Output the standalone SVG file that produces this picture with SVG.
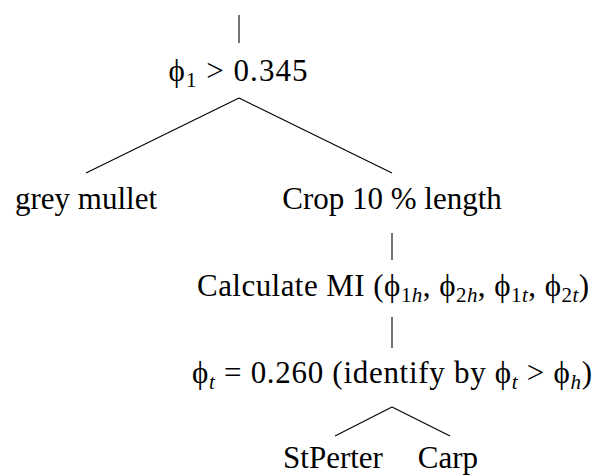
<svg xmlns="http://www.w3.org/2000/svg" width="597" height="475" viewBox="0 0 597 475">
<style>
text{font-family:"Liberation Serif","DejaVu Serif",serif;font-size:31px;fill:#000;text-anchor:middle}
.s{font-size:21px}
.i{font-style:italic}
line{stroke:#000;stroke-width:1.1}
</style>
<rect width="597" height="475" fill="#fff"/>
<g id="connectors">
<line x1="239" y1="15" x2="239" y2="43"/>
<line x1="239" y1="98" x2="86" y2="173"/>
<line x1="239" y1="98" x2="392" y2="173"/>
<line x1="392" y1="233" x2="392" y2="260"/>
<line x1="392" y1="317" x2="392" y2="348"/>
<line x1="392" y1="407" x2="335" y2="436"/>
<line x1="392" y1="407" x2="450" y2="436"/>
</g>
<g id="root"><text x="238" y="81" textLength="139" lengthAdjust="spacing">ϕ<tspan class="s" dy="6">1</tspan><tspan dy="-6"> &gt; 0.345</tspan></text></g>
<g id="grey-mullet"><text x="86" y="209">grey mullet</text></g>
<g id="crop"><text x="392" y="209">Crop 10 % length</text></g>
<g id="calculate"><text x="393" y="296" textLength="392" lengthAdjust="spacing">Calculate MI (ϕ<tspan class="s" dy="6">1<tspan class="i">h</tspan></tspan><tspan dy="-6">, ϕ</tspan><tspan class="s" dy="6">2<tspan class="i">h</tspan></tspan><tspan dy="-6">, ϕ</tspan><tspan class="s" dy="6">1<tspan class="i">t</tspan></tspan><tspan dy="-6">, ϕ</tspan><tspan class="s i" dy="6"><tspan font-style="normal">2</tspan>t</tspan><tspan dy="-6">)</tspan></text></g>
<g id="phi-t"><text x="392" y="383" textLength="400" lengthAdjust="spacing">ϕ<tspan class="s i" dy="6">t</tspan><tspan dy="-6"> = 0.260 (identify by ϕ</tspan><tspan class="s i" dy="6">t</tspan><tspan dy="-6"> &gt; ϕ</tspan><tspan class="s i" dy="6">h</tspan><tspan dy="-6">)</tspan></text></g>
<g id="stperter"><text x="333" y="468">StPerter</text></g>
<g id="carp"><text x="448" y="468">Carp</text></g>
</svg>
